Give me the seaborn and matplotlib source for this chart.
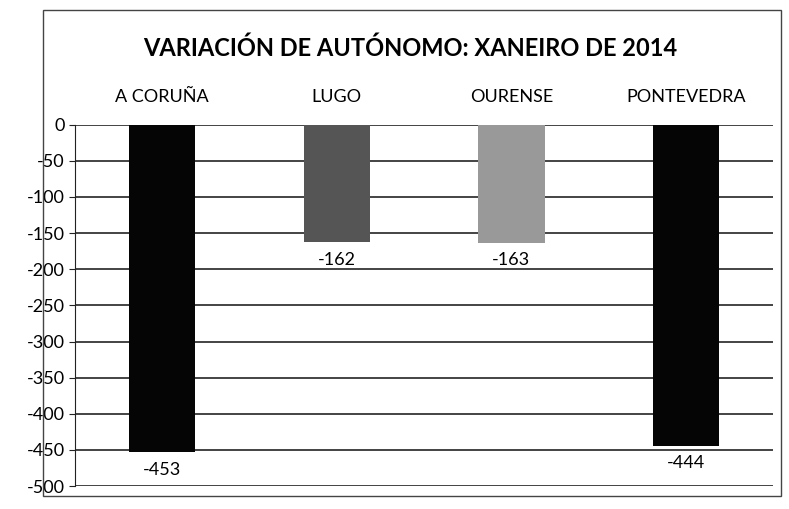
import pandas as pd
import matplotlib.pyplot as plt
import seaborn as sns
from matplotlib.patches import Rectangle

# Data
provincias = ["A CORUÑA", "LUGO", "OURENSE", "PONTEVEDRA"]
variacion = [-453, -162, -163, -444]
cores = ["#050505", "#555555", "#999999", "#050505"]
yticks = [0, -50, -100, -150, -200, -250, -300, -350, -400, -450, -500]

df = pd.DataFrame({"provincia": provincias, "variacion": variacion})

sns.set_style("white")
plt.rcParams["font.family"] = ["Lato", "DejaVu Sans"]
plt.rcParams["text.color"] = "black"
plt.rcParams["xtick.color"] = "black"
plt.rcParams["ytick.color"] = "black"

fig = plt.figure(figsize=(7.89, 5.09), dpi=100)
ax = fig.add_axes([0.095, 0.045, 0.885, 0.71])

sns.barplot(data=df, x="provincia", y="variacion", hue="provincia",
            palette=cores, saturation=1, width=0.38, linewidth=0,
            legend=False, ax=ax)

ax.set_ylim(-500, 0)
ax.set_yticks(yticks)
ax.set_yticklabels([str(v) for v in yticks], fontsize=13)
ax.yaxis.grid(True, color="#111111", linewidth=1.1)
ax.set_axisbelow(True)

# category labels sit above the plot
ax.xaxis.tick_top()
ax.tick_params(axis="x", length=0, pad=14, labelsize=13)
ax.set_xlabel("")
ax.set_ylabel("")

for s in ["top", "right", "bottom"]:
    ax.spines[s].set_visible(False)
ax.spines["left"].set_color("#222222")
ax.tick_params(axis="y", length=4, color="#222222", left=True)

for c in ax.containers:
    ax.bar_label(c, fmt="%d", padding=7, fontsize=13)

fig.text(0.52, 0.905, "VARIACIÓN DE AUTÓNOMO: XANEIRO DE 2014",
         ha="center", va="center", fontsize=17, fontweight="bold")

# chart frame
fig.patches.append(Rectangle((0.055, 0.025), 0.935, 0.955, transform=fig.transFigure,
                             fill=False, edgecolor="#444444", linewidth=1))

fig.savefig("out.png", dpi=100)
